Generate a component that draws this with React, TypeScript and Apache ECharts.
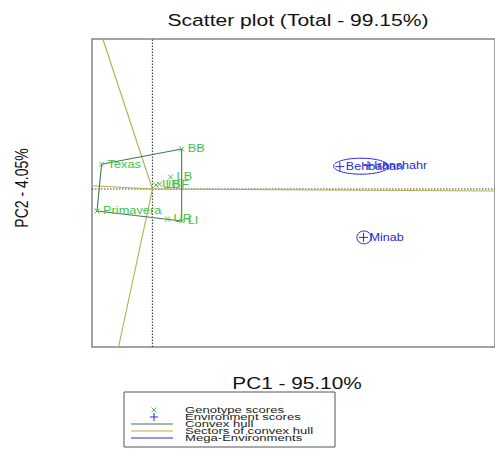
import React, { useEffect, useRef } from "react";
import * as echarts from "echarts";

// ---- data (PC scores) ----
const genotypeNames = ["BB", "Texas", "Primavera", "LI", "UR", "LB", "UB", "LBF"];
const genotypePC1 = [0.58, -1.01, -1.1, 0.58, 0.3, 0.36, 0.07, 0.14];
const genotypePC2 = [1.0, 0.62, -0.55, -0.8, -0.75, 0.3, 0.1, 0.12];

const environmentNames = ["Behbahan", "Iranshahr", "Minab"];
const environmentPC1 = [3.72, 4.28, 4.19];
const environmentPC2 = [0.56, 0.59, -1.21];

// convex hull vertices (genotype indices)
const hullOrder = [0, 1, 2, 3, 0];

// sector lines end points (from origin)
const sectorEnds = [
  [-0.985, 3.75],
  [-0.673, -3.95],
  [-1.2, 0.08],
  [6.8, -0.05],
];

// mega-environment ellipses: [centerPC1, centerPC2, radiusPC1, radiusPC2]
const megaEnvCx = [4.14, 4.2];
const megaEnvCy = [0.57, -1.21];
const megaEnvRx = [0.545, 0.142];
const megaEnvRy = [0.2, 0.16];

const legendLabels = [
  "Genotype scores",
  "Environment scores",
  "Convex hull",
  "Sectors of convex hull",
  "Mega-Environments",
];

const titleText = "Scatter plot (Total - 99.15%)";
const xTitle = "PC1 - 95.10%";
const yTitle = "PC2 - 4.05%";

const X_MIN = -1.2;
const X_MAX = 6.8;
const Y_MIN = -3.95;
const Y_MAX = 3.75;

const GREEN = "#45c245";
const HULL = "#3f7a4a";
const OLIVE = "#b3ad4c";
const BLUE = "#2a2ad8";
const FONT = "'Liberation Sans', Arial, sans-serif";
const SX = 1.28;

function textEl(x: number, y: number, text: string, fill: string, fontSize: number, align: string, extra: any = {}) {
  return {
    type: "text",
    x,
    y,
    scaleX: SX,
    ...extra,
    style: {
      text,
      fill,
      fontSize,
      fontFamily: FONT,
      align,
      verticalAlign: "middle",
      textAlign: align,
      textVerticalAlign: "middle",
    },
  };
}

export default function App() {
  const ref = useRef<HTMLDivElement>(null);
  useEffect(() => {
    if (!ref.current) return;
    const chart = echarts.init(ref.current, null, { renderer: "svg" });

    const genoData = genotypePC1.map((x, i) => [x, genotypePC2[i]]);
    const envData = environmentPC1.map((x, i) => [x, environmentPC2[i]]);
    const hullData = hullOrder.map((i) => [genotypePC1[i], genotypePC2[i]]);
    const megaData = megaEnvCx.map((cx, i) => [cx, megaEnvCy[i], megaEnvRx[i], megaEnvRy[i]]);

    const sectorSeries = sectorEnds.map((e) => ({
      type: "line",
      data: [[0, 0], e],
      symbol: "none",
      silent: true,
      lineStyle: { color: OLIVE, width: 1.1 },
      z: 3,
    }));

    // legend graphics
    const lx1 = 131, lx2 = 173, lsx = 154, ltx = 185;
    const rows = [410, 417, 424, 431, 438];
    const legendEls: any[] = [
      { type: "rect", shape: { x: 124, y: 392, width: 211, height: 55 }, style: { fill: "none", stroke: "#555", lineWidth: 1 } },
      { type: "line", shape: { x1: lsx - 2.5, y1: rows[0] - 2.5, x2: lsx + 2.5, y2: rows[0] + 2.5 }, style: { stroke: GREEN, lineWidth: 1 } },
      { type: "line", shape: { x1: lsx - 2.5, y1: rows[0] + 2.5, x2: lsx + 2.5, y2: rows[0] - 2.5 }, style: { stroke: GREEN, lineWidth: 1 } },
      { type: "line", shape: { x1: lsx - 4, y1: rows[1], x2: lsx + 4, y2: rows[1] }, style: { stroke: BLUE, lineWidth: 1 } },
      { type: "line", shape: { x1: lsx, y1: rows[1] - 4, x2: lsx, y2: rows[1] + 4 }, style: { stroke: BLUE, lineWidth: 1 } },
      { type: "line", shape: { x1: lx1, y1: rows[2], x2: lx2, y2: rows[2] }, style: { stroke: HULL, lineWidth: 1 } },
      { type: "line", shape: { x1: lx1, y1: rows[3], x2: lx2, y2: rows[3] }, style: { stroke: OLIVE, lineWidth: 1 } },
      { type: "line", shape: { x1: lx1, y1: rows[4], x2: lx2, y2: rows[4] }, style: { stroke: BLUE, lineWidth: 1 } },
    ];
    legendLabels.forEach((t, i) => legendEls.push(textEl(ltx, rows[i], t, "#222", 9.5, "left", { scaleX: 1.38 })));

    chart.setOption({
      animation: false,
      grid: {
        left: 92,
        top: 39,
        width: 410,
        height: 308,
        show: true,
        borderColor: "#858585",
        borderWidth: 1.5,
        backgroundColor: "transparent",
      },
      xAxis: {
        type: "value",
        min: X_MIN,
        max: X_MAX,
        axisLine: { show: false },
        axisTick: { show: false },
        axisLabel: { show: false },
        splitLine: { show: false },
      },
      yAxis: {
        type: "value",
        min: Y_MIN,
        max: Y_MAX,
        axisLine: { show: false },
        axisTick: { show: false },
        axisLabel: { show: false },
        splitLine: { show: false },
      },
      graphic: [
        textEl(298, 20, titleText, "#111", 17, "center", { scaleX: 1.24 }),
        textEl(297, 383, xTitle, "#111", 16, "center", { scaleX: 1.3 }),
        {
          type: "text",
          x: 21,
          y: 188,
          rotation: Math.PI / 2,
          scaleY: 1.28,
          style: {
            text: yTitle,
            fill: "#111",
            fontSize: 14,
            fontFamily: FONT,
            align: "center",
            verticalAlign: "middle",
            textAlign: "center",
            textVerticalAlign: "middle",
          },
        },
        ...legendEls,
      ],
      series: [
        {
          type: "line",
          data: [[0, Y_MIN], [0, Y_MAX]],
          symbol: "none",
          silent: true,
          lineStyle: { color: "#444", width: 1.2, type: [1.5, 1.5] },
          z: 2,
        },
        {
          type: "line",
          data: [[X_MIN, 0], [X_MAX, 0]],
          symbol: "none",
          silent: true,
          lineStyle: { color: "#444", width: 1.2, type: [1.5, 1.5] },
          z: 2,
        },
        ...sectorSeries,
        {
          type: "line",
          data: hullData,
          symbol: "none",
          silent: true,
          lineStyle: { color: HULL, width: 1.1 },
          z: 4,
        },
        {
          type: "custom",
          data: megaData,
          silent: true,
          z: 5,
          renderItem: (params: any, api: any) => {
            const c = api.coord([api.value(0), api.value(1)]);
            const s = api.size([api.value(2), api.value(3)]);
            return {
              type: "ellipse",
              shape: { cx: c[0], cy: c[1], rx: s[0], ry: s[1] },
              style: { fill: "none", stroke: BLUE, lineWidth: 1 },
            };
          },
        },
        {
          type: "custom",
          data: genoData,
          silent: true,
          z: 6,
          renderItem: (params: any, api: any) => {
            const p = api.coord([api.value(0), api.value(1)]);
            const s = 2.5;
            return {
              type: "group",
              children: [
                { type: "line", shape: { x1: p[0] - s, y1: p[1] - s, x2: p[0] + s, y2: p[1] + s }, style: { stroke: GREEN, lineWidth: 1 } },
                { type: "line", shape: { x1: p[0] - s, y1: p[1] + s, x2: p[0] + s, y2: p[1] - s }, style: { stroke: GREEN, lineWidth: 1 } },
                textEl(p[0] + 6, p[1], genotypeNames[params.dataIndex], GREEN, 10, "left"),
              ],
            };
          },
        },
        {
          type: "custom",
          data: envData,
          silent: true,
          z: 7,
          renderItem: (params: any, api: any) => {
            const p = api.coord([api.value(0), api.value(1)]);
            const s = 4.5;
            return {
              type: "group",
              children: [
                { type: "line", shape: { x1: p[0] - s, y1: p[1], x2: p[0] + s, y2: p[1] }, style: { stroke: BLUE, lineWidth: 1 } },
                { type: "line", shape: { x1: p[0], y1: p[1] - s, x2: p[0], y2: p[1] + s }, style: { stroke: BLUE, lineWidth: 1 } },
                textEl(p[0] + 6, p[1], environmentNames[params.dataIndex], BLUE, 10.5, "left", { scaleX: 1.2 }),
              ],
            };
          },
        },
      ],
    });
    return () => chart.dispose();
  }, []);
  return (
    <div
      ref={ref}
      style={{ position: "absolute", left: 0, top: 0, width: 495, height: 462, background: "#fff" }}
    />
  );
}
